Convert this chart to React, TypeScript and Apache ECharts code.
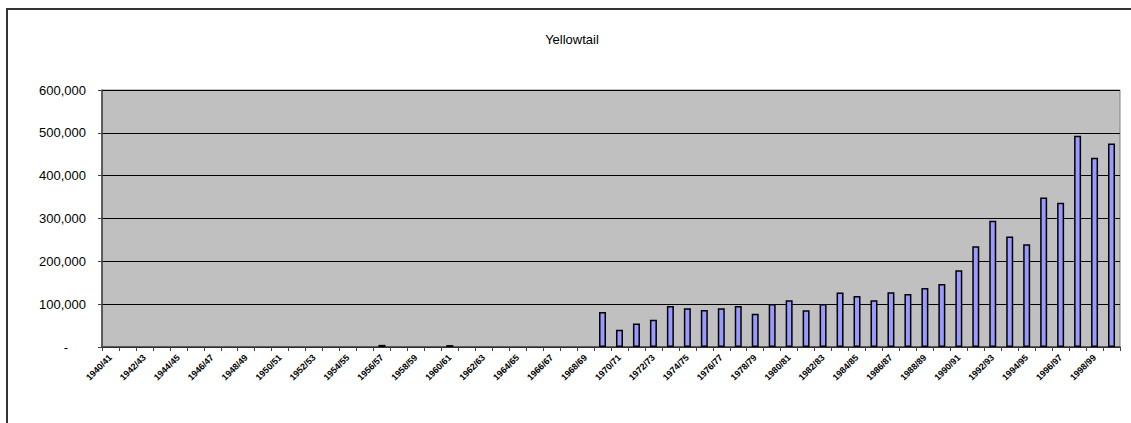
import React, { useEffect, useRef } from "react";
import * as echarts from "echarts";

const categories: string[] = [
  "1940/41", "1941/42", "1942/43", "1943/44", "1944/45", "1945/46", "1946/47", "1947/48", "1948/49", "1949/50",
  "1950/51", "1951/52", "1952/53", "1953/54", "1954/55", "1955/56", "1956/57", "1957/58", "1958/59", "1959/60",
  "1960/61", "1961/62", "1962/63", "1963/64", "1964/65", "1965/66", "1966/67", "1967/68", "1968/69", "1969/70",
  "1970/71", "1971/72", "1972/73", "1973/74", "1974/75", "1975/76", "1976/77", "1977/78", "1978/79", "1979/80",
  "1980/81", "1981/82", "1982/83", "1983/84", "1984/85", "1985/86", "1986/87", "1987/88", "1988/89", "1989/90",
  "1990/91", "1991/92", "1992/93", "1993/94", "1994/95", "1995/96", "1996/97", "1997/98", "1998/99", "1999/00",
];

const catch_: (number | null)[] = [
  null, null, null, null, null, null, null, null, null, null,
  null, null, null, null, null, null, 5000, null, null, null,
  4500, null, null, null, null, null, null, null, null, 82000,
  40500, 55000, 63500, 96000, 90500, 86500, 90500, 96000, 77500, 100500,
  109000, 86000, 100500, 127500, 119000, 109000, 128000, 124000, 138000, 147000,
  179000, 235000, 295000, 258000, 240000, 349000, 337000, 493000, 442000, 475000,
];

const yTicks = { min: 0, max: 600000, interval: 100000 };
const title = "Yellowtail";

export default function App() {
  const ref = useRef<HTMLDivElement>(null);
  useEffect(() => {
    if (!ref.current) return;
    const chart = echarts.init(ref.current, null, { renderer: "svg" });
    chart.setOption({
      animation: false,
      backgroundColor: "#ffffff",
      textStyle: { fontFamily: "Liberation Sans, Arial, sans-serif" },
      graphic: [
        {
          type: "rect",
          shape: { x: 7, y: 9, width: 1200, height: 600 },
          style: { fill: "none", stroke: "#333333", lineWidth: 2 },
          silent: true,
          z: 100,
        },
        {
          type: "text",
          x: 572,
          y: 39,
          style: {
            text: title,
            fill: "#000",
            fontSize: 13,
            fontFamily: "Liberation Sans, Arial, sans-serif",
            align: "center",
            verticalAlign: "middle",
          },
        },
      ],
      grid: {
        left: 102,
        right: 11,
        top: 90,
        bottom: 76,
        show: true,
        backgroundColor: "#C0C0C0",
        borderColor: "#808080",
        borderWidth: 1,
      },
      xAxis: {
        type: "category",
        data: categories,
        boundaryGap: true,
        axisLine: { show: true, lineStyle: { color: "#404040", width: 1.5 } },
        axisTick: { show: true, interval: 0, length: 4, lineStyle: { color: "#404040" } },
        axisLabel: {
          interval: 1,
          rotate: 45,
          fontSize: 9,
          color: "#000",
          margin: 9,
          fontWeight: "bold",
        },
      },
      yAxis: {
        type: "value",
        min: yTicks.min,
        max: yTicks.max,
        interval: yTicks.interval,
        axisLine: { show: true, lineStyle: { color: "#404040", width: 1.5 } },
        axisTick: { show: true, length: 4, lineStyle: { color: "#404040" } },
        splitLine: { show: true, lineStyle: { color: "#000", width: 1 } },
        axisLabel: {
          margin: 16,
          fontSize: 13,
          color: "#000",
          formatter: (v: number) =>
            v === 0 ? "{d|-}" : v.toLocaleString("en-US"),
          rich: { d: { fontSize: 13, color: "#000", padding: [0, 18, 0, 0] } },
        },
      },
      series: [
        {
          type: "bar",
          data: catch_,
          barWidth: 7,
          itemStyle: { color: "#9999FF", borderColor: "#000", borderWidth: 1.5 },
        },
      ],
    });
    return () => chart.dispose();
  }, []);
  return (
    <div style={{ position: "absolute", left: 0, top: 0, width: 1131, height: 423 }}>
      <div ref={ref} style={{ width: 1131, height: 423 }} />
    </div>
  );
}
